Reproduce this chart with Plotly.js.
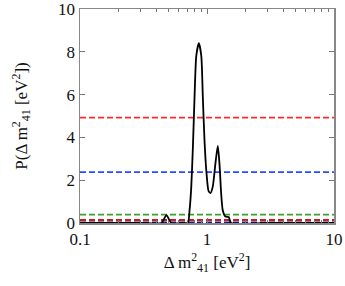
<!DOCTYPE html>
<html><head><meta charset="utf-8">
<script src="https://cdn.plot.ly/plotly-3.0.1.min.js"></script>
<style>html,body{margin:0;padding:0;background:#fff}#chart{width:345px;height:286px}</style>
</head><body><div id="chart"></div>
<script>
// Posterior curve: Δm²41 [eV²] vs P
const massX = [0.1, 0.3, 0.438, 0.479, 0.524, 0.65, 0.706, 0.729, 0.752, 0.775, 0.798, 0.823, 0.863, 0.902, 0.927, 0.955, 0.986, 1.028, 1.065, 1.11, 1.166, 1.216, 1.253, 1.292, 1.33, 1.397, 1.483, 1.549, 3, 10];
const probY = [0, 0, 0, 0.37, 0, 0, 0, 0.6, 1.7, 3.6, 5.9, 7.8, 8.4, 7.8, 5.9, 3.9, 2.5, 1.5, 1.4, 1.7, 2.8, 3.6, 2.8, 1.4, 0.6, 0.3, 0.28, 0, 0, 0];
// Horizontal reference levels
const levelValues = [4.92, 2.38, 0.39, 0.14, 0.03];
const levelColors = ['#ff2a2a', '#2a4dff', '#3aa02a', '#d01818', '#101890'];
const xRange = [0.1, 10];
const yTicks = [0, 2, 4, 6, 8, 10];

const traces = levelValues.map((v, i) => ({
  x: xRange, y: [v, v], mode: 'lines', type: 'scatter',
  line: {color: levelColors[i], width: 1.8, dash: '6px,3px'}, hoverinfo: 'skip'
}));
traces.push({x: massX, y: probY, mode: 'lines', type: 'scatter',
  line: {color: '#000', width: 1.8, shape: 'spline', smoothing: 0.6}});

const font = {family: 'Liberation Serif, Times New Roman, serif', size: 17, color: '#111'};
const layout = {
  width: 345, height: 286,
  margin: {l: 80, r: 11, t: 9, b: 63},
  showlegend: false,
  paper_bgcolor: '#fff', plot_bgcolor: '#fff',
  font: font,
  xaxis: {
    type: 'log', range: [-1, 1],
    tickvals: [0.1, 1, 10], ticktext: ['0.1', '1', '10'],
    ticks: 'inside', ticklen: 5, tickcolor: '#777',
    minor: {ticks: 'inside', ticklen: 3, tickcolor: '#777', tickvals: [0.2,0.3,0.4,0.5,0.6,0.7,0.8,0.9,2,3,4,5,6,7,8,9]},
    showline: true, linecolor: '#888', linewidth: 1.5, mirror: 'ticks',
    showgrid: false, zeroline: false,
    tickfont: font,
    title: {text: 'Δ m<sup>2</sup><sub>41</sub> [eV<sup>2</sup>]', font: font, standoff: 8}
  },
  yaxis: {
    range: [0, 10.001], tickvals: yTicks, ticktext: yTicks.map(String),
    ticklabeloverflow: 'allow',
    ticks: 'inside', ticklen: 5, tickcolor: '#777',
    showline: true, linecolor: '#888', linewidth: 1.5, mirror: 'ticks',
    showgrid: false, zeroline: false,
    tickfont: font,
    title: {text: 'P(Δ m<sup>2</sup><sub>41</sub> [eV<sup>2</sup>])', font: font, standoff: 26}
  }
};
Plotly.newPlot('chart', traces, layout, {displayModeBar: false, staticPlot: true});
</script></body></html>
